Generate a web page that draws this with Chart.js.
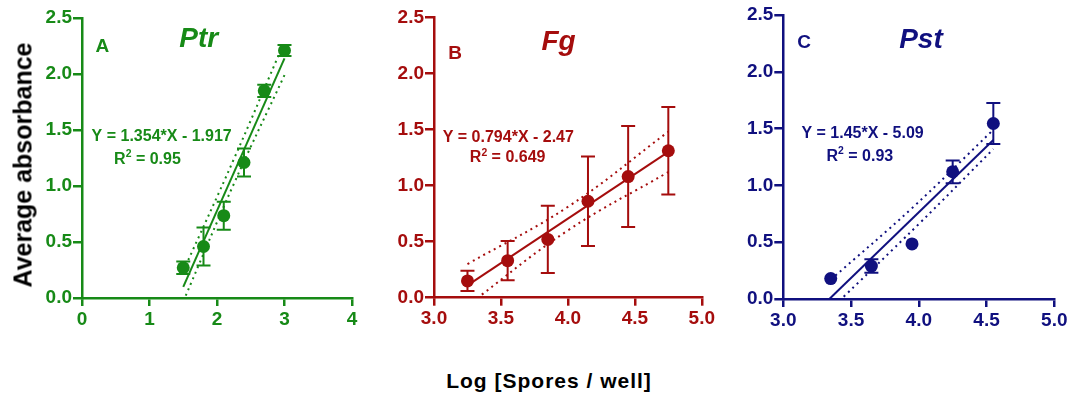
<!DOCTYPE html>
<html lang="en">
<head>
<meta charset="UTF-8">
<title>Standard curves - Ptr, Fg, Pst</title>
<script src="https://cdn.jsdelivr.net/npm/chart.js"></script>
<style>
    body {
        margin: 0;
        background: #fff;
        font-family: 'Liberation Sans', Arial, sans-serif;
    }
    .figure {
        position: relative;
        width: 1073px;
        height: 399px;
        overflow: hidden;
    }
    .panel {
        position: absolute;
        top: 0;
    }
    #yTitle {
        position: absolute;
        left: 23px;
        top: 165px;
        transform: translate(-50%, -50%) rotate(-90deg);
        font-weight: bold;
        font-size: 25px;
        white-space: nowrap;
        color: #000;
    }
    #xTitle {
        position: absolute;
        left: 549px;
        top: 381px;
        transform: translate(-50%, -50%);
        font-weight: bold;
        font-size: 21px;
        letter-spacing: 1px;
        white-space: nowrap;
        color: #000;
    }
</style>
</head>
<body>
<div class="figure">
    <canvas id="chartA" class="panel" width="372" height="345" style="left:0px"></canvas>
    <canvas id="chartB" class="panel" width="345" height="345" style="left:372px"></canvas>
    <canvas id="chartC" class="panel" width="356" height="345" style="left:717px"></canvas>
    <div id="yTitle">Average absorbance</div>
    <div id="xTitle">Log [Spores / well]</div>
</div>

<script>
    // ---- data ----
    const yTicks = [0, 0.5, 1.0, 1.5, 2.0, 2.5];
    const xTicksA = [0, 1, 2, 3, 4];
    const xTicksBC = [3.0, 3.5, 4.0, 4.5, 5.0];

    // A - Ptr
    const ptrX = [1.5, 1.8, 2.1, 2.4, 2.7, 3.0];
    const ptrY = [0.27, 0.46, 0.735, 1.21, 1.85, 2.21];
    const ptrErr = [0.055, 0.17, 0.125, 0.125, 0.055, 0.05];
    const ptrFitX = [1.5, 3.0];
    const ptrFitY = [0.10, 2.14];
    const ptrUpperX = [1.5, 2.25, 3.0];
    const ptrUpperY = [0.24, 1.24, 2.29];
    const ptrLowerX = [1.5, 2.25, 3.0];
    const ptrLowerY = [-0.03, 1.02, 1.99];

    // B - Fg
    const fgX = [3.25, 3.55, 3.85, 4.15, 4.45, 4.75];
    const fgY = [0.15, 0.33, 0.52, 0.86, 1.08, 1.31];
    const fgErr = [0.09, 0.175, 0.30, 0.40, 0.45, 0.39];
    const fgFitX = [3.25, 4.75];
    const fgFitY = [0.11, 1.30];
    const fgUpperX = [3.25, 4.0, 4.75];
    const fgUpperY = [0.30, 0.81, 1.48];
    const fgLowerX = [3.25, 4.0, 4.75];
    const fgLowerY = [-0.07, 0.60, 1.12];

    // C - Pst
    const pstX = [3.35, 3.65, 3.95, 4.25, 4.55];
    const pstY = [0.18, 0.29, 0.485, 1.12, 1.545];
    const pstErr = [0, 0.06, 0, 0.10, 0.18];
    const pstFitX = [3.34, 4.55];
    const pstFitY = [0.0, 1.40];
    const pstUpperX = [3.35, 3.95, 4.55];
    const pstUpperY = [0.17, 0.80, 1.49];
    const pstLowerX = [3.35, 4.0, 4.55];
    const pstLowerY = [-0.09, 0.66, 1.32];

    const FONT = "'Liberation Sans', Arial, sans-serif";
    const GREEN = '#178a17';
    const RED = '#a50d0d';
    const NAVY = '#10107f';

    function pts(xs, ys) {
        return xs.map((x, i) => ({ x: x, y: ys[i] }));
    }

    // error bars drawn under the markers
    const errorBars = {
        id: 'errorBars',
        beforeDatasetsDraw(chart) {
            const ctx = chart.ctx;
            const xs = chart.scales.x, ys = chart.scales.y;
            chart.data.datasets.forEach(ds => {
                if (!ds.errors) return;
                ctx.save();
                ctx.strokeStyle = ds.backgroundColor;
                ctx.lineWidth = 2;
                const cap = 7;
                ds.data.forEach((p, i) => {
                    const e = ds.errors[i];
                    if (!e) return;
                    const px = xs.getPixelForValue(p.x);
                    const top = ys.getPixelForValue(p.y + e);
                    const bot = ys.getPixelForValue(p.y - e);
                    ctx.beginPath();
                    ctx.moveTo(px, top); ctx.lineTo(px, bot);
                    ctx.moveTo(px - cap, top); ctx.lineTo(px + cap, top);
                    ctx.moveTo(px - cap, bot); ctx.lineTo(px + cap, bot);
                    ctx.stroke();
                });
                ctx.restore();
            });
        }
    };

    // panel letter, organism name and regression text
    const panelText = {
        id: 'panelText',
        afterDraw(chart, args, opts) {
            const ctx = chart.ctx;
            const xs = chart.scales.x, ys = chart.scales.y;
            opts.items.forEach(it => {
                const parts = it.parts || [{ text: it.text }];
                const fontOf = p => (it.italic ? 'italic ' : '') + 'bold ' +
                    (p.sup ? it.size * 0.65 : it.size) + 'px ' + FONT;
                ctx.save();
                ctx.fillStyle = opts.color;
                ctx.textBaseline = 'alphabetic';
                const widths = parts.map(p => { ctx.font = fontOf(p); return ctx.measureText(p.text).width; });
                const total = widths.reduce((a, b) => a + b, 0);
                let cx = xs.getPixelForValue(it.x) - total / 2;
                const base = ys.getPixelForValue(it.y) + it.size * 0.358;
                parts.forEach((p, i) => {
                    ctx.font = fontOf(p);
                    ctx.fillText(p.text, cx, p.sup ? base - it.size * 0.42 : base);
                    cx += widths[i];
                });
                ctx.restore();
            });
        }
    };

    function makeChart(id, cfg) {
        const c = cfg.color;
        const tickFont = { family: FONT, size: 19, weight: 'bold' };
        new Chart(document.getElementById(id), {
            type: 'scatter',
            data: {
                datasets: [
                    {
                        type: 'scatter', data: pts(cfg.x, cfg.y), errors: cfg.err,
                        backgroundColor: c, borderWidth: 0, pointRadius: 6.5, pointHoverRadius: 6.5, order: 0
                    },
                    {
                        type: 'line', data: pts(cfg.fitX, cfg.fitY), borderColor: c,
                        borderWidth: 2, pointRadius: 0, order: 1
                    },
                    {
                        type: 'line', data: pts(cfg.upX, cfg.upY), borderColor: c, borderDash: [2, 4],
                        borderWidth: 2, pointRadius: 0, tension: 0.4, order: 2
                    },
                    {
                        type: 'line', data: pts(cfg.loX, cfg.loY), borderColor: c, borderDash: [2, 4],
                        borderWidth: 2, pointRadius: 0, tension: 0.4, order: 2
                    }
                ]
            },
            options: {
                responsive: false,
                animation: false,
                layout: { padding: cfg.padding },
                plugins: {
                    legend: { display: false },
                    tooltip: { enabled: false },
                    panelText: { color: c, items: cfg.labels }
                },
                scales: {
                    x: {
                        type: 'linear', min: cfg.xMin, max: cfg.xMax,
                        afterBuildTicks: s => { s.ticks = cfg.xTicks.map(v => ({ value: v })); },
                        afterFit: s => { s.height = 40; },
                        ticks: {
                            color: c, font: tickFont, padding: 2, maxRotation: 0,
                            callback: v => v.toFixed(cfg.xDec)
                        },
                        grid: { drawOnChartArea: false, color: c, lineWidth: 2.5, tickLength: 8 },
                        border: { color: c, width: 2.5 }
                    },
                    y: {
                        type: 'linear', min: 0, max: 2.5,
                        afterBuildTicks: s => { s.ticks = yTicks.map(v => ({ value: v })); },
                        afterFit: s => { s.width = cfg.yWidth; },
                        ticks: {
                            color: c, font: tickFont, padding: 1,
                            callback: v => v.toFixed(1)
                        },
                        grid: { drawOnChartArea: false, color: c, lineWidth: 2.5, tickLength: 9 },
                        border: { color: c, width: 2.5 }
                    }
                }
            },
            plugins: [errorBars, panelText]
        });
    }

    makeChart('chartA', {
        color: GREEN, x: ptrX, y: ptrY, err: ptrErr,
        fitX: ptrFitX, fitY: ptrFitY, upX: ptrUpperX, upY: ptrUpperY, loX: ptrLowerX, loY: ptrLowerY,
        xMin: 0, xMax: 4, xTicks: xTicksA, xDec: 0,
        yWidth: 82, padding: { left: 0, right: 20, top: 18, bottom: 7 },
        labels: [
            { text: 'A', x: 0.30, y: 2.26, size: 19 },
            { text: 'Ptr', x: 1.73, y: 2.33, size: 28, italic: true },
            { text: 'Y = 1.354*X - 1.917', x: 1.18, y: 1.45, size: 16 },
            { parts: [{ text: 'R' }, { text: '2', sup: true }, { text: ' = 0.95' }], x: 0.97, y: 1.25, size: 16 }
        ]
    });

    makeChart('chartB', {
        color: RED, x: fgX, y: fgY, err: fgErr,
        fitX: fgFitX, fitY: fgFitY, upX: fgUpperX, upY: fgUpperY, loX: fgLowerX, loY: fgLowerY,
        xMin: 3, xMax: 5, xTicks: xTicksBC, xDec: 1,
        yWidth: 62, padding: { left: 0, right: 15, top: 17.3, bottom: 7.3 },
        labels: [
            { text: 'B', x: 3.157, y: 2.185, size: 19 },
            { text: 'Fg', x: 3.93, y: 2.30, size: 28, italic: true },
            { text: 'Y = 0.794*X - 2.47', x: 3.555, y: 1.44, size: 16 },
            { parts: [{ text: 'R' }, { text: '2', sup: true }, { text: ' = 0.649' }], x: 3.55, y: 1.257, size: 16 }
        ]
    });

    makeChart('chartC', {
        color: NAVY, x: pstX, y: pstY, err: pstErr,
        fitX: pstFitX, fitY: pstFitY, upX: pstUpperX, upY: pstUpperY, loX: pstLowerX, loY: pstLowerY,
        xMin: 3, xMax: 5, xTicks: xTicksBC, xDec: 1,
        yWidth: 66.3, padding: { left: 0, right: 18.7, top: 15, bottom: 6 },
        labels: [
            { text: 'C', x: 3.153, y: 2.273, size: 19 },
            { text: 'Pst', x: 4.016, y: 2.295, size: 28, italic: true },
            { text: 'Y = 1.45*X - 5.09', x: 3.585, y: 1.466, size: 16 },
            { parts: [{ text: 'R' }, { text: '2', sup: true }, { text: ' = 0.93' }], x: 3.565, y: 1.268, size: 16 }
        ]
    });
</script>
</body>
</html>
